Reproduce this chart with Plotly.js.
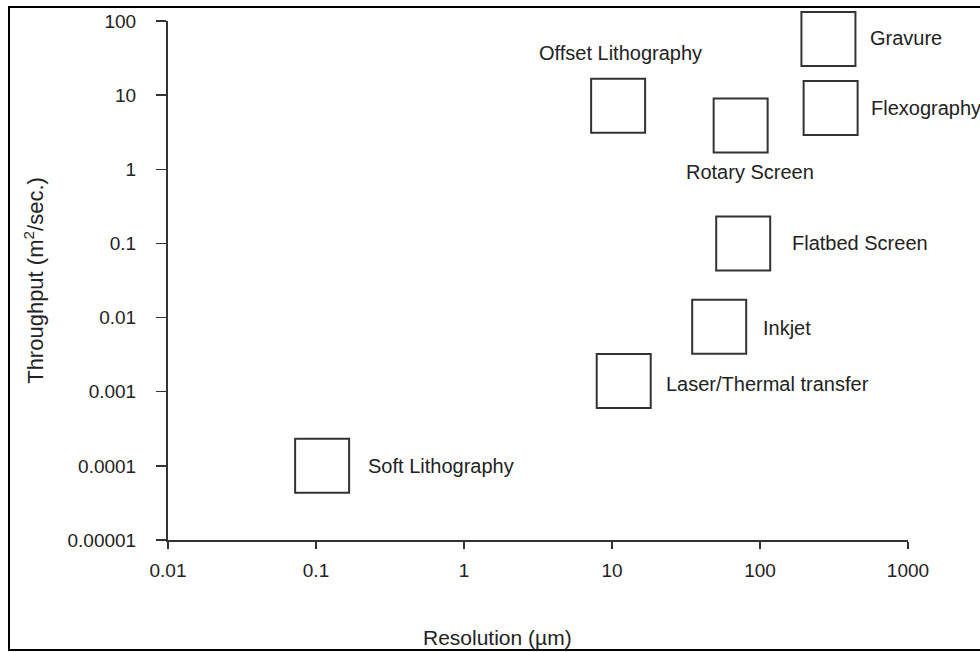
<!DOCTYPE html>
<html>
<head>
<meta charset="utf-8">
<script src="https://cdn.plot.ly/plotly-3.0.1.min.js"></script>
<style>
  html, body { margin: 0; padding: 0; background: #fff; }
  #wrap { position: relative; width: 980px; height: 652px; overflow: hidden; }
  #chart { position: absolute; left: 0; top: 0; width: 980px; height: 652px; }
  #frame { position: absolute; left: 8px; top: 6px; width: 990px; height: 641px;
           border: 2px solid #000; pointer-events: none; }
</style>
</head>
<body>
<div id="wrap">
  <div id="chart"></div>
  <div id="frame"></div>
</div>
<script>
// ---- data ----
const methods = ['Offset Lithography', 'Gravure', 'Flexography', 'Rotary Screen',
                 'Flatbed Screen', 'Inkjet', 'Laser/Thermal transfer', 'Soft Lithography'];
const resolution = [11, 290, 300, 74, 77, 53, 12, 0.11];          // µm
const throughput = [7.2, 57, 6.7, 3.9, 0.1, 0.0075, 0.0014, 0.0001]; // m²/sec.

const xTickVals = [0.01, 0.1, 1, 10, 100, 1000];
const xTickText = ['0.01', '0.1', '1', '10', '100', '1000'];
const yTickVals = [0.00001, 0.0001, 0.001, 0.01, 0.1, 1, 10, 100];
const yTickText = ['0.00001', '0.0001', '0.001', '0.01', '0.1', '1', '10', '100'];

const xTitle = 'Resolution (µm)';
const yTitle = 'Throughput (m<sup>2</sup>/sec.)';

// ---- label placement (style only) ----
const labelAnchor = ['center', 'left', 'left', 'center', 'left', 'left', 'left', 'left'];
const labelDx = [2, 40, 38, 9, 47, 42, 40, 44];
const labelDy = [53, 1, 0, -47, 0, -1, -3, 0];

const FONT = '"Liberation Sans", Arial, sans-serif';
const INK = '#222';
const LINE = '#333';

const trace = {
  type: 'scatter',
  mode: 'markers',
  x: resolution,
  y: throughput,
  text: methods,
  hoverinfo: 'text',
  cliponaxis: false,
  marker: {
    symbol: 'square-open',
    size: 54,
    color: LINE,
    line: { width: 2, color: LINE }
  },
  showlegend: false
};

const annotations = methods.map((m, i) => ({
  xref: 'x', yref: 'y',
  x: Math.log10(resolution[i]),
  y: Math.log10(throughput[i]),
  text: m,
  showarrow: false,
  xanchor: labelAnchor[i],
  yanchor: 'middle',
  xshift: labelDx[i],
  yshift: labelDy[i],
  font: { family: FONT, size: 20, color: INK }
}));

annotations.push({
  xref: 'paper', yref: 'paper', x: 0, y: 0,
  xanchor: 'center', yanchor: 'middle',
  xshift: 329, yshift: -97,
  text: xTitle, showarrow: false,
  font: { family: FONT, size: 21, color: INK }
});

const layout = {
  width: 980,
  height: 652,
  margin: { l: 168, r: 72, t: 21, b: 112, pad: 0 },
  paper_bgcolor: '#fff',
  plot_bgcolor: '#fff',
  font: { family: FONT, size: 19, color: INK },
  xaxis: {
    type: 'log',
    range: [-2, 3],
    tickmode: 'array',
    tickvals: xTickVals,
    ticktext: xTickText,
    showgrid: false,
    zeroline: false,
    showline: true,
    linecolor: LINE,
    linewidth: 2,
    ticks: 'outside',
    ticklen: 7,
    tickwidth: 1.5,
    tickcolor: LINE,
    ticklabelstandoff: 5,
    tickfont: { family: FONT, size: 19, color: INK }
  },
  yaxis: {
    type: 'log',
    range: [-5, 2],
    tickmode: 'array',
    tickvals: yTickVals,
    ticktext: yTickText,
    showgrid: false,
    zeroline: false,
    showline: true,
    linecolor: LINE,
    linewidth: 2,
    ticks: 'outside',
    ticklen: 10,
    tickwidth: 1.5,
    tickcolor: LINE,
    ticklabelstandoff: 16,
    tickfont: { family: FONT, size: 19, color: INK },
    title: { text: yTitle, standoff: 18, font: { family: FONT, size: 22, color: INK } }
  },
  annotations: annotations
};

Plotly.newPlot('chart', [trace], layout, { staticPlot: true, displayModeBar: false });
</script>
</body>
</html>
